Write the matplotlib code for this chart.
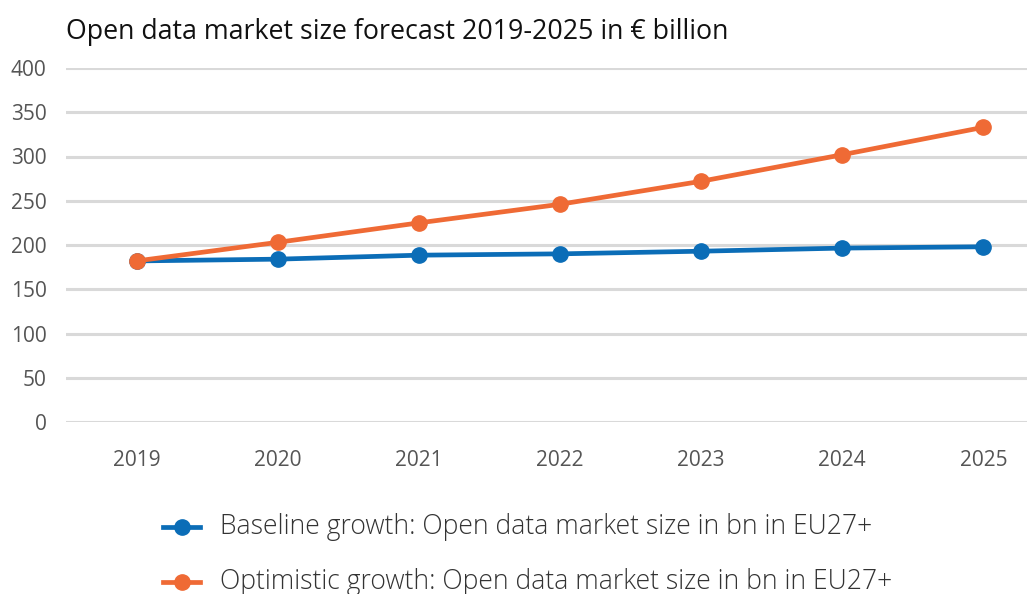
import matplotlib
matplotlib.use("Agg")
import matplotlib.pyplot as plt
from matplotlib.lines import Line2D

years = ["2019", "2020", "2021", "2022", "2023", "2024", "2025"]
baseline = [182, 184, 188.5, 190, 193, 196.5, 198]
optimistic = [182, 203, 225, 246, 272, 302, 333]
yticks = [0, 50, 100, 150, 200, 250, 300, 350, 400]
title = "Open data market size forecast 2019-2025 in € billion"
labels = ["Baseline growth: Open data market size in bn in EU27+",
          "Optimistic growth: Open data market size in bn in EU27+"]
colors = ["#0B6DB7", "#EF6A35"]

plt.rcParams['font.family'] = ['Open Sans', 'DejaVu Sans']

fig = plt.figure(figsize=(10.27, 5.94), dpi=100)
left = 66 / 1027
right = 1054 / 1027
top = 1 - 68 / 594
bottom = 1 - 422 / 594
ax = fig.add_axes([left, bottom, right - left, top - bottom])

x = list(range(len(years)))
ax.plot(x, baseline, color=colors[0], lw=3.4, marker='o', ms=11, zorder=3)
ax.plot(x, optimistic, color=colors[1], lw=3.4, marker='o', ms=11, zorder=4)

ax.set_xlim(-0.5, len(years) - 0.5)
ax.set_ylim(0, 400)
ax.set_yticks(yticks)
ax.set_xticks(x)
ax.set_xticklabels(years)
ax.grid(axis='y', color='#D9D9D9', lw=2.2)
ax.set_axisbelow(True)
for s in ax.spines.values():
    s.set_visible(False)
ax.tick_params(length=0, labelsize=15, labelcolor='#555555')
ax.tick_params(axis='y', pad=14)
ax.tick_params(axis='x', pad=20)

fig.text(66 / 1027, 1 - 32 / 594, title, fontsize=19.3, color='#111111',
         va='center', ha='left')

for i, (lab, c) in enumerate(zip(labels, colors)):
    yy = 1 - (527 + 55 * i) / 594
    fig.add_artist(Line2D([163 / 1027, 200 / 1027], [yy, yy], color=c, lw=3.4,
                          transform=fig.transFigure))
    fig.add_artist(Line2D([181.5 / 1027], [yy], color=c, marker='o', ms=11,
                          transform=fig.transFigure))
    fig.text(220 / 1027, yy, lab, fontsize=19.1, fontweight='light',
             color='#333333', va='center', ha='left')

fig.savefig("out.png", dpi=100)
